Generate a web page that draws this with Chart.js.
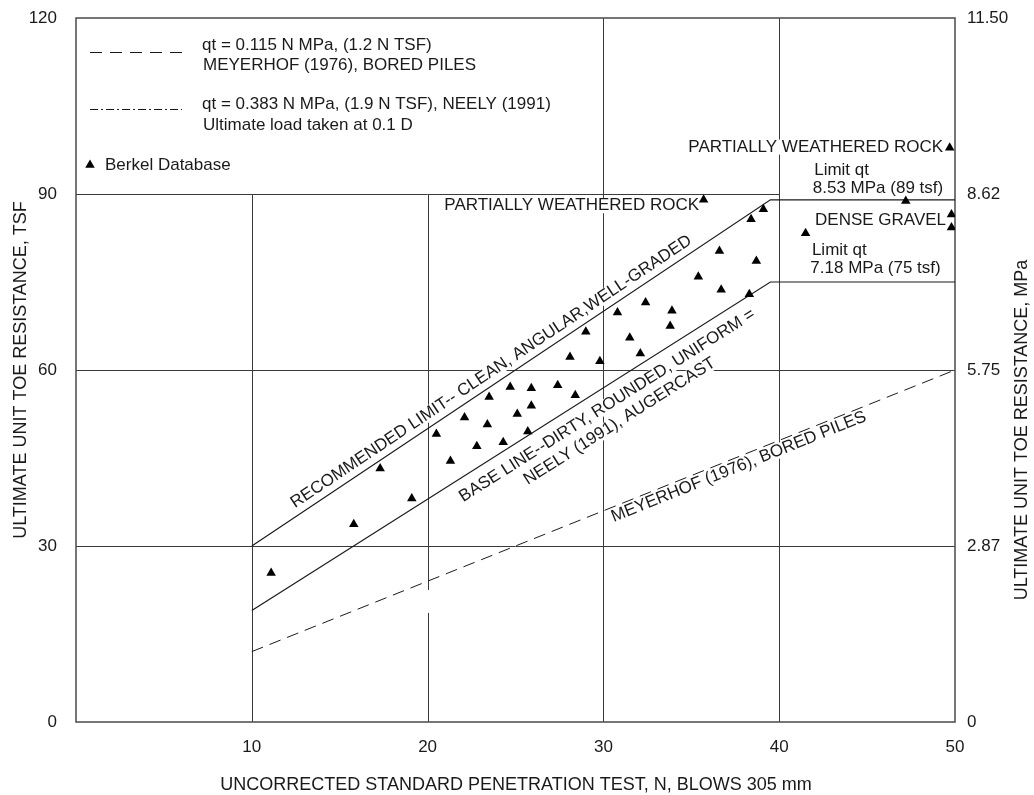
<!DOCTYPE html>
<html>
<head>
<meta charset="utf-8">
<script src="https://cdn.jsdelivr.net/npm/chart.js@4.4.1/dist/chart.umd.min.js"></script>
<style>
  html, body { margin: 0; padding: 0; background: #fff; }
  canvas { display: block; }
</style>
</head>
<body>
<canvas id="toeChart" width="1034" height="795"></canvas>
<script>
// Berkel database points: N (blows / 305 mm) and unit toe resistance (TSF)
const berkelN   = [11.1, 15.8, 17.3, 19.1, 20.5, 21.3, 22.1, 22.8, 23.4, 23.5, 24.3, 24.7, 25.1, 25.7,
                   25.9, 25.9, 27.4, 28.1, 28.4, 29.0, 29.8, 30.8, 31.5, 32.1, 32.4, 33.8, 33.9, 35.4,
                   35.7, 36.6, 36.7, 38.3, 38.4, 38.7, 39.1, 41.5, 47.2, 49.7, 49.8, 49.8];
const berkelTsf = [25.4, 33.7, 43.2, 38.1, 49.1, 44.5, 51.9, 47.0, 50.7, 55.4, 47.7, 57.1, 52.5, 49.5,
                   53.9, 56.9, 57.4, 62.2, 55.7, 66.5, 61.5, 69.8, 65.5, 62.8, 71.5, 67.5, 70.1, 75.9,
                   89.0, 80.3, 73.7, 72.9, 85.7, 78.6, 87.4, 83.3, 88.8, 97.9, 86.5, 84.3];

// design lines
const recLimitN = [10, 39.5, 50];
const recLimitTsf = [30, 89, 89];
const baseLineN = [10, 39.5, 50];
const baseLineTsf = [19, 75, 75];
const meyerhofN = [10, 50];
const meyerhofTsf = [12, 60];

// axes
const xTicks = [10, 20, 30, 40, 50];
const yTicks = [0, 30, 60, 90, 120];
const mpaTicks = [0, 2.875, 5.75, 8.625, 11.5];
const mpaLabels = ['0', '2.87', '5.75', '8.62', '11.50'];

// grid segments: vertical lines (x, from tsf, to tsf), horizontal lines (tsf, from N, to N)
const gridVert = [[10, 0, 90], [20, 0, 18.6], [20, 22.5, 90], [30, 0, 120], [40, 0, 120]];
const gridHorz = [[30, 0, 50], [60, 0, 50], [90, 0, 40]];

const FONT = "'Liberation Sans', Arial, Helvetica, sans-serif";
const INK = '#1a1a1a';

function pts(ns, ts) {
    return ns.map((n, i) => ({ x: n, y: ts[i] }));
}

function interp(ns, ts, n) {
    for (let i = 0; i < ns.length - 1; i++) {
        if (n >= ns[i] && n <= ns[i + 1]) {
            return ts[i] + (ts[i + 1] - ts[i]) * (n - ns[i]) / (ns[i + 1] - ns[i]);
        }
    }
    return ts[ts.length - 1];
}

// text with a white box behind it (knocks out the grid like the original)
function boxedText(ctx, str, x, y, align) {
    const w = ctx.measureText(str).width;
    let left = x;
    if (align === 'center') left = x - w / 2;
    if (align === 'right') left = x - w;
    ctx.fillStyle = '#fff';
    ctx.fillRect(left - 1, y - 7.5, w + 2, 15);
    ctx.fillStyle = INK;
    ctx.textAlign = align;
    ctx.fillText(str, x, y);
}

// label laid along the first (sloped) segment of a design line
function lineLabel(ctx, xs, ys, ns, ts, n, lines) {
    const px = xs.getPixelForValue(n);
    const py = ys.getPixelForValue(interp(ns, ts, n));
    const ang = Math.atan2(ys.getPixelForValue(ts[1]) - ys.getPixelForValue(ts[0]),
                           xs.getPixelForValue(ns[1]) - xs.getPixelForValue(ns[0]));
    ctx.save();
    ctx.translate(px, py);
    ctx.rotate(ang);
    lines.forEach(l => boxedText(ctx, l.text, l.along || 0, l.off, 'center'));
    ctx.restore();
}

const refDrawing = {
    id: 'refDrawing',
    beforeDatasetsDraw(chart) {
        const { ctx, chartArea: a } = chart;
        const xs = chart.scales.x, ys = chart.scales.y;
        ctx.save();

        // partial grid
        ctx.strokeStyle = '#3a3a3a';
        ctx.lineWidth = 1;
        ctx.beginPath();
        gridVert.forEach(g => {
            const px = Math.round(xs.getPixelForValue(g[0])) + 0.5;
            ctx.moveTo(px, ys.getPixelForValue(g[1]));
            ctx.lineTo(px, ys.getPixelForValue(g[2]));
        });
        gridHorz.forEach(g => {
            const py = Math.round(ys.getPixelForValue(g[0])) + 0.5;
            ctx.moveTo(xs.getPixelForValue(g[1]), py);
            ctx.lineTo(xs.getPixelForValue(g[2]), py);
        });
        ctx.stroke();

        ctx.font = '17px ' + FONT;
        ctx.textBaseline = 'middle';

        lineLabel(ctx, xs, ys, recLimitN, recLimitTsf, 24,
            [{ text: 'RECOMMENDED LIMIT-- CLEAN, ANGULAR,WELL-GRADED', off: -12 }]);
        lineLabel(ctx, xs, ys, baseLineN, baseLineTsf, 29.7,
            [{ text: 'BASE LINE--DIRTY, ROUNDED, UNIFORM =', off: 17 },
             { text: 'NEELY (1991), AUGERCAST', off: 37, along: 2 }]);
        lineLabel(ctx, xs, ys, meyerhofN, meyerhofTsf, 37.5,
            [{ text: 'MEYERHOF (1976), BORED PILES', off: 9.5 }]);

        // notes: [text, N, TSF, align]
        const notes = [
            ['PARTIALLY WEATHERED ROCK', 35.44, 88.0, 'right'],
            ['PARTIALLY WEATHERED ROCK', 49.32, 98.0, 'right'],
            ['DENSE GRAVEL', 49.49, 85.6, 'right'],
            ['Limit qt', 41.99, 94.1, 'left'],
            ['8.53 MPa (89 tsf)', 41.91, 90.95, 'left'],
            ['Limit qt', 41.86, 80.45, 'left'],
            ['7.18 MPa (75 tsf)', 41.77, 77.3, 'left']
        ];
        notes.forEach(t => boxedText(ctx, t[0], xs.getPixelForValue(t[1]), ys.getPixelForValue(t[2]), t[3]));

        // frame
        ctx.strokeStyle = '#4a4a4a';
        ctx.lineWidth = 1.5;
        ctx.strokeRect(a.left, a.top, a.right - a.left, a.bottom - a.top);
        ctx.restore();
    },
    afterDraw(chart) {
        const { ctx, chartArea: a } = chart;
        ctx.save();
        ctx.fillStyle = INK;
        ctx.textBaseline = 'middle';

        // axis titles
        ctx.font = '18px ' + FONT;
        ctx.textAlign = 'center';
        ctx.fillText('UNCORRECTED STANDARD PENETRATION TEST, N, BLOWS 305 mm', 516, 785);
        ctx.save();
        ctx.translate(21, (a.top + a.bottom) / 2);
        ctx.rotate(-Math.PI / 2);
        ctx.fillText('ULTIMATE UNIT TOE RESISTANCE, TSF', 0, 0);
        ctx.restore();
        ctx.save();
        ctx.translate(1022, 430);
        ctx.rotate(-Math.PI / 2);
        ctx.fillText('ULTIMATE UNIT TOE RESISTANCE, MPa', 0, 0);
        ctx.restore();

        // legend box contents
        const lx = a.left;
        ctx.strokeStyle = INK;
        ctx.lineWidth = 1;
        ctx.setLineDash([12, 8]);
        ctx.beginPath();
        ctx.moveTo(lx + 14, 52.5);
        ctx.lineTo(lx + 106, 52.5);
        ctx.stroke();
        ctx.setLineDash([8, 3, 2, 3]);
        ctx.beginPath();
        ctx.moveTo(lx + 14, 109.5);
        ctx.lineTo(lx + 106, 109.5);
        ctx.stroke();
        ctx.setLineDash([]);

        ctx.font = '17px ' + FONT;
        ctx.textAlign = 'left';
        ctx.fillText('qt = 0.115 N MPa, (1.2 N TSF)', lx + 126, 45);
        ctx.fillText('MEYERHOF (1976), BORED PILES', lx + 127, 65);
        ctx.fillText('qt = 0.383 N MPa, (1.9 N TSF), NEELY (1991)', lx + 126, 104.5);
        ctx.fillText('Ultimate load taken at 0.1 D', lx + 127, 125.5);
        ctx.fillText('Berkel Database', lx + 29, 165.5);
        ctx.fillStyle = '#000';
        Chart.helpers.drawPoint(ctx, { pointStyle: 'triangle', radius: 5.5, borderWidth: 0, rotation: 0 }, lx + 14, 165);
        ctx.restore();
    }
};

const tickFont = { family: FONT, size: 17 };

function fixVertical(width) {
    return axis => {
        axis.width = width;
        axis.paddingTop = 0;
        axis.paddingBottom = 0;
    };
}

new Chart(document.getElementById('toeChart'), {
    type: 'scatter',
    data: {
        datasets: [
            {
                label: 'Berkel Database',
                data: pts(berkelN, berkelTsf),
                pointStyle: 'triangle',
                pointRadius: 5.5,
                pointBorderWidth: 0,
                backgroundColor: '#000',
                borderColor: '#000'
            },
            {
                label: 'Recommended limit',
                data: pts(recLimitN, recLimitTsf),
                showLine: true,
                borderColor: INK,
                borderWidth: 1.2,
                pointRadius: 0
            },
            {
                label: 'Base line',
                data: pts(baseLineN, baseLineTsf),
                showLine: true,
                borderColor: INK,
                borderWidth: 1.2,
                pointRadius: 0
            },
            {
                label: 'Meyerhof (1976)',
                data: pts(meyerhofN, meyerhofTsf),
                showLine: true,
                borderColor: INK,
                borderWidth: 1,
                borderDash: [12, 7],
                pointRadius: 0
            }
        ]
    },
    options: {
        responsive: false,
        animation: false,
        devicePixelRatio: 1,
        layout: { padding: { top: 18, left: 0, right: 0, bottom: 0 } },
        plugins: {
            legend: { display: false },
            tooltip: { enabled: false }
        },
        scales: {
            x: {
                type: 'linear',
                min: 0,
                max: 50,
                grid: { display: false, drawTicks: false },
                border: { display: false },
                afterBuildTicks: axis => { axis.ticks = [0].concat(xTicks).map(v => ({ value: v })); },
                afterFit: axis => { axis.height = 73; },
                ticks: {
                    font: tickFont,
                    color: INK,
                    padding: 15,
                    maxRotation: 0,
                    callback: v => (v === 0 ? '' : v)
                }
            },
            y: {
                type: 'linear',
                position: 'left',
                min: 0,
                max: 120,
                grid: { display: false, drawTicks: false },
                border: { display: false },
                afterBuildTicks: axis => { axis.ticks = yTicks.map(v => ({ value: v })); },
                afterFit: fixVertical(76),
                ticks: { font: tickFont, color: INK, padding: 19 }
            },
            y2: {
                type: 'linear',
                position: 'right',
                min: 0,
                max: 11.5,
                grid: { display: false, drawTicks: false },
                border: { display: false },
                afterBuildTicks: axis => { axis.ticks = mpaTicks.map(v => ({ value: v })); },
                afterFit: fixVertical(79),
                ticks: {
                    font: tickFont,
                    color: INK,
                    padding: 12,
                    callback: (v, i) => mpaLabels[i]
                }
            }
        }
    },
    plugins: [refDrawing]
});
</script>
</body>
</html>
